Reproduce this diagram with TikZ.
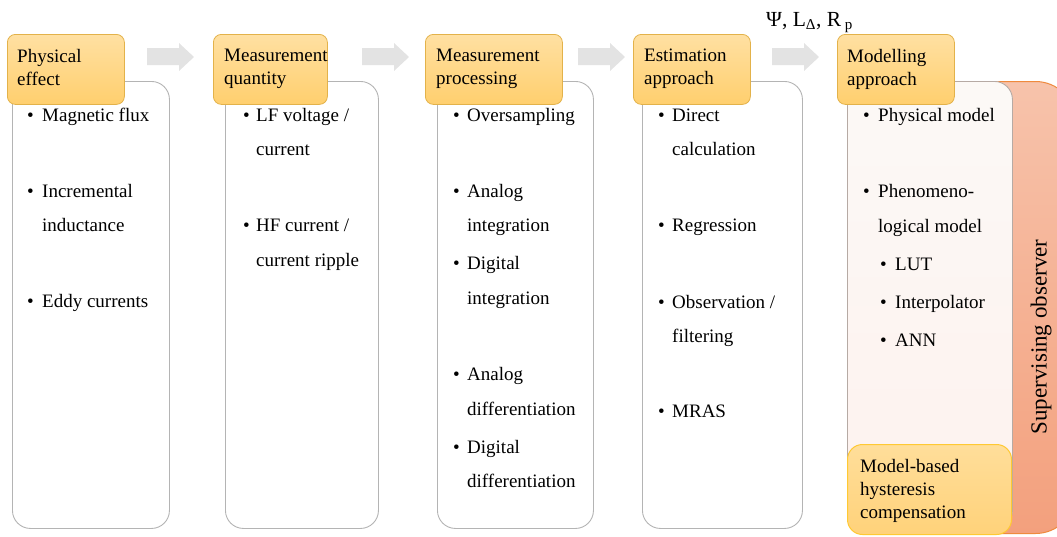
\documentclass[tikz,border=0pt]{standalone}
\usepackage{fontspec}
\setmainfont{Liberation Serif}
\definecolor{hdrtop}{HTML}{FFE0A2}
\definecolor{hdrbot}{HTML}{FFCF6E}
\definecolor{hdrline}{HTML}{E3B24A}
\definecolor{boxline}{HTML}{B4B4B4}
\definecolor{modtop}{HTML}{FCF9F6}
\definecolor{modbot}{HTML}{FDF1EE}
\definecolor{modline}{HTML}{B6AAA4}
\definecolor{obstop}{HTML}{F7C3AB}
\definecolor{obsbot}{HTML}{F3A07D}
\definecolor{obsline}{HTML}{EF8A3E}
\definecolor{mbtop}{HTML}{FFDE9A}
\definecolor{mbbot}{HTML}{FFD27A}
\definecolor{mbline}{HTML}{FFC933}
\definecolor{arrowgray}{HTML}{E3E3E3}
\newcommand\bodyfont{\fontsize{19}{23}\selectfont}
% bullet item line: name, bullet x, text x, baseline y, text
\newcommand\itm[5]{%
  \node[txt] (#1b) at (#2,#4+1) {•};
  \node[txt] (#1) at (#3,#4+1) {#5};}
% continuation line: name, text x, baseline y, text
\newcommand\itmc[4]{\node[txt] (#1) at (#2,#3+1) {#4};}
\begin{document}
\begin{tikzpicture}[x=1pt,y=-1pt,
  hdr/.style={draw=hdrline, line width=0.8pt, rounded corners=8pt,
    top color=hdrtop, bottom color=hdrbot, inner sep=0, anchor=north west,
    minimum height=70pt},
  cbox/.style={draw=boxline, line width=0.9pt, fill=white, rounded corners=18pt,
    inner sep=0, anchor=north west, minimum height=447pt},
  txt/.style={anchor=base west, inner sep=0, font=\bodyfont},
  htxt/.style={anchor=north west, inner sep=0, align=left, font=\bodyfont},
  arr/.style={fill=arrowgray}]
\useasboundingbox (0,0) rectangle (1057,536);

% supervising observer band behind the last column
\node[draw=obsline, line width=1pt, rounded corners=40pt, top color=obstop,
  bottom color=obsbot, inner sep=0, anchor=north west,
  minimum width=175pt, minimum height=452pt] (obs) at (900,81) {};
\node[rotate=90, inner sep=0, font=\fontsize{23}{27}\selectfont]
  (obst) at (1041,337) {Supervising observer};

% content boxes
\node[cbox, minimum width=157pt] (c1) at (12,81) {};
\node[cbox, minimum width=153pt] (c2) at (225,81) {};
\node[cbox, minimum width=156pt] (c3) at (437,81) {};
\node[cbox, minimum width=160pt] (c4) at (642,81) {};
\node[cbox, draw=modline, top color=modtop, bottom color=modbot,
  minimum width=165pt] (c5) at (847,81) {};

% model-based compensation box
\node[draw=mbline, line width=1pt, rounded corners=15pt, top color=mbtop,
  bottom color=mbbot, inner sep=0, anchor=north west,
  minimum width=164pt, minimum height=90pt] (mb) at (847,444) {};
\node[htxt] (mbt) at (860,459) {Model-based\\hysteresis\\compensation};

% header boxes
\node[hdr, minimum width=117pt] (h1) at (7,34) {};
\node[hdr, minimum width=114pt] (h2) at (213,34) {};
\node[hdr, minimum width=137pt] (h3) at (425,34) {};
\node[hdr, minimum width=117pt] (h4) at (633,34) {};
\node[hdr, minimum width=117pt] (h5) at (837,34) {};
\node[htxt] (h1t) at (17,49) {Physical\\effect};
\node[htxt] (h2t) at (224,49) {Measurement\\quantity};
\node[htxt] (h3t) at (436,49) {Measurement\\processing};
\node[htxt] (h4t) at (644,49) {Estimation\\approach};
\node[htxt] (h5t) at (847,49) {Modelling\\approach};

% block arrows between the header boxes
\foreach \x/\n in {147/1,362/2,578/3,772/4}{
  \coordinate (arr\n) at (\x,48);
  \fill[arr] (arr\n) -- ++(32,0) -- ++(0,-5) -- ++(15,14) -- ++(-15,14)
    -- ++(0,-6) -- ++(-32,0) -- cycle;
}

% quantities handed to the modelling stage
\node[anchor=base west, inner sep=0, font=\fontsize{21.5}{25}\selectfont]
  (qty) at (766,26) {Ψ, L\textsubscript{Δ}, R\,\textsubscript{p}};

% physical effect
\itm{p1}{27}{42}{120}{Magnetic flux}
\itm{p2}{27}{42}{196}{Incremental}
\itmc{p2c}{42}{230}{inductance}
\itm{p3}{27}{42}{306}{Eddy currents}

% measurement quantity
\itm{q1}{243}{256}{120}{LF voltage /}
\itmc{q1c}{256}{154}{current}
\itm{q2}{243}{256}{230}{HF current /}
\itmc{q2c}{256}{265}{current ripple}

% measurement processing
\itm{r1}{453}{467}{120}{Oversampling}
\itm{r2}{453}{467}{196}{Analog}
\itmc{r2c}{467}{230}{integration}
\itm{r3}{453}{467}{268}{Digital}
\itmc{r3c}{467}{303}{integration}
\itm{r4}{453}{467}{379}{Analog}
\itmc{r4c}{467}{414}{differentiation}
\itm{r5}{453}{467}{452}{Digital}
\itmc{r5c}{467}{486}{differentiation}

% estimation approach
\itm{s1}{658}{672}{120}{Direct}
\itmc{s1c}{672}{154}{calculation}
\itm{s2}{658}{672}{230}{Regression}
\itm{s3}{658}{672}{307}{Observation /}
\itmc{s3c}{672}{341}{filtering}
\itm{s4}{658}{672}{416}{MRAS}

% modelling approach
\itm{t1}{863}{878}{120}{Physical model}
\itm{t2}{863}{878}{196}{Phenomeno-}
\itmc{t2c}{878}{231}{logical model}
\itm{t3}{880}{895}{269}{LUT}
\itm{t4}{880}{895}{307}{Interpolator}
\itm{t5}{880}{895}{345}{ANN}
\end{tikzpicture}
\end{document}
